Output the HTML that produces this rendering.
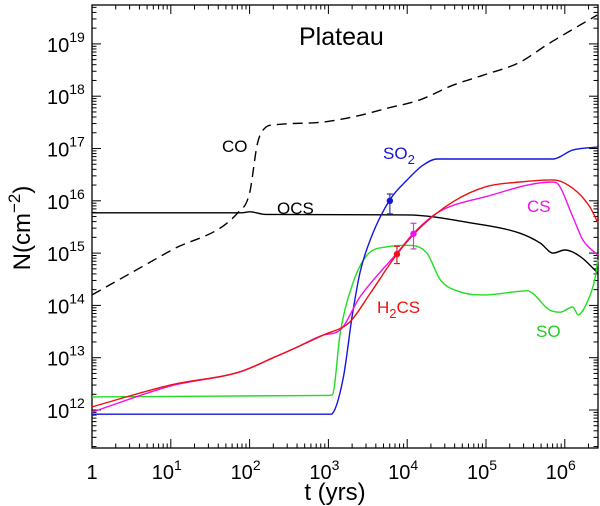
<!DOCTYPE html>
<html><head><meta charset="utf-8"><style>
html,body{margin:0;padding:0;background:#fff}
svg{display:block;font-family:"Liberation Sans",sans-serif}
</style></head><body>
<svg id="chart" width="600" height="506" viewBox="0 0 600 506">
<g id="axes"></g>
<g id="series"></g>
<g id="labels"></g>
</svg>
<script>
// ---- data (log10 t, log10 N) ----
const coT   = [0,1,1.85,2.0,2.1,2.2,2.3,2.9,3.3,3.75,4.16,4.58,4.96,5.43,5.77,5.9,6.41];
const coN   = [14.2,15.05,15.77,16.15,17.1,17.4,17.45,17.5,17.6,17.77,17.93,18.21,18.4,18.65,18.98,19.1,19.55];
const ocsT  = [0,1.9,2.0,2.2,4.0,4.8,5.43,5.69,5.85,6.0,6.2,6.42];
const ocsN  = [15.77,15.77,15.79,15.74,15.73,15.58,15.38,15.19,15.0,15.06,14.93,14.62];
const so2T  = [0,3.03,3.05,3.19,3.3,3.4,3.53,3.78,4.0,4.2,4.38,5.85,6.1,6.42];
const so2N  = [11.92,11.92,11.93,12.63,13.78,14.62,15.25,16.02,16.4,16.68,16.8,16.8,16.97,17.03];
const h2csT = [0,1.0,1.88,2.3,2.6,2.93,3.27,3.53,3.87,4.16,4.58,5.0,5.43,5.85,6.1,6.32,6.42];
const h2csN = [12.06,12.48,12.73,13.0,13.2,13.43,13.68,14.23,14.98,15.48,15.98,16.27,16.36,16.4,16.24,15.88,15.58];
const csT   = [0,1.0,1.88,2.3,2.6,2.93,3.15,3.4,3.87,4.08,4.38,5.0,5.85,5.9,6.1,6.23,6.42];
const csN   = [11.96,12.46,12.73,13.0,13.2,13.43,13.53,14.16,15.0,15.38,15.77,16.08,16.36,16.34,15.7,15.25,14.96];
const soT   = [0,3.0,3.05,3.15,3.31,3.49,3.74,4.0,4.25,4.42,4.67,5.0,5.52,5.81,5.94,6.1,6.17,6.28,6.38,6.42];
const soN   = [12.25,12.28,12.29,13.47,14.42,14.96,15.12,15.15,15.0,14.49,14.26,14.2,14.28,13.91,13.87,13.97,13.82,14.05,14.49,14.87];
const obsNames = ["SO2","H2CS","CS"];
const obsT  = [3.78,3.87,4.08];
const obsN  = [16.0,14.98,15.37];
const obsHi = [16.13,15.13,15.57];
const obsLo = [15.75,14.8,15.08];
const xTickLabels = ["1","10","10","10","10","10","10"];
const xTickExp = ["","1","2","3","4","5","6"];
const yTickExp = ["12","13","14","15","16","17","18","19"];

// ---- axis ----
const X0=92, X1=598, Y0=448, Y1=5;
const TMIN=0, TMAX=(598-92)/78.8;
const NMIN=12-(448-410)/52.3, NMAX=12+(410-5)/52.3;
const xs=t=>X0+(t-TMIN)/(TMAX-TMIN)*(X1-X0);
const ys=n=>Y0-(n-NMIN)/(NMAX-NMIN)*(Y0-Y1);
const NS="http://www.w3.org/2000/svg";
function mk(tag,attrs,parent){const e=document.createElementNS(NS,tag);for(const k in attrs)e.setAttribute(k,attrs[k]);parent.appendChild(e);return e;}
const axes=document.getElementById('axes'), ser=document.getElementById('series');

const frame=mk('rect',{x:X0,y:Y1,width:X1-X0,height:Y0-Y1,fill:'none',stroke:'#000','stroke-width':1.3},axes);



for(let d=0;d<=6;d++){
  for(let m=1;m<=9;m++){
    const t=d+Math.log10(m); if(t>TMAX) continue;
    const x=xs(t), L=m===1?9:4.5;
    const a=mk('line',{x1:x,x2:x,y1:Y0,y2:Y0-L,stroke:'#000','stroke-width':1},axes);
    
    
    const b=mk('line',{x1:x,x2:x,y1:Y1,y2:Y1+L,stroke:'#000','stroke-width':1},axes);
    
    
  }
}
xTickLabels.forEach((s,i)=>{
  const t=mk('text',{x:xs(i)+(xTickExp[i]?-4:0),y:479,'font-size':20,'text-anchor':'middle'},axes);
  
  
  t.textContent=s;
  if(xTickExp[i]){const sp=mk('tspan',{dy:-9,'font-size':14},t);sp.textContent=xTickExp[i];}
});
for(let d=11;d<=19;d++){
  for(let m=1;m<=9;m++){
    const n=d+Math.log10(m); if(n<NMIN||n>NMAX) continue;
    const y=ys(n), L=m===1?9:4.5;
    const a=mk('line',{x1:X0,x2:X0+L,y1:y,y2:y,stroke:'#000','stroke-width':1},axes);
    
    
    const b=mk('line',{x1:X1,x2:X1-L,y1:y,y2:y,stroke:'#000','stroke-width':1},axes);
    
    
  }
}
yTickExp.forEach((e,i)=>{
  const t=mk('text',{x:47,y:ys(12+i)+8,'font-size':20},axes);
  
  
  t.textContent='10';
  const sp=mk('tspan',{dy:-10,'font-size':14},t);sp.textContent=e;
});
const xt=mk('text',{x:335,y:500,'font-size':24,'text-anchor':'middle'},axes);


xt.textContent='t (yrs)';
const yt=mk('text',{x:0,y:0,'font-size':24,'text-anchor':'middle',transform:'translate(30,228) rotate(-90)'},axes);


yt.textContent='N(cm';
const ytsp=mk('tspan',{dy:-10,'font-size':17},yt);ytsp.textContent='\u22122';
const ytsp2=mk('tspan',{dy:10},yt);ytsp2.textContent=')';

// monotone cubic (Fritsch-Carlson) path: no overshoot, no loops
function monoPath(P){
  const n=P.length, dx=[], m=[], s=[];
  for(let i=0;i<n-1;i++){dx[i]=P[i+1][0]-P[i][0]; s[i]=dx[i]?(P[i+1][1]-P[i][1])/dx[i]:0;}
  m[0]=s[0]; m[n-1]=s[n-2];
  for(let i=1;i<n-1;i++){ m[i]=(s[i-1]*s[i]<=0)?0:(s[i-1]+s[i])/2; }
  for(let i=0;i<n-1;i++){
    if(s[i]===0){m[i]=0;m[i+1]=0;continue;}
    const a=m[i]/s[i], b=m[i+1]/s[i], h=a*a+b*b;
    if(h>9){const t=3/Math.sqrt(h); m[i]=t*a*s[i]; m[i+1]=t*b*s[i];}
  }
  let d='M'+P[0][0].toFixed(1)+','+P[0][1].toFixed(1);
  for(let i=0;i<n-1;i++){
    const h=dx[i]/3;
    d+=' C'+(P[i][0]+h).toFixed(1)+','+(P[i][1]+m[i]*h).toFixed(1)+' '+(P[i+1][0]-h).toFixed(1)+','+(P[i+1][1]-m[i+1]*h).toFixed(1)+' '+P[i+1][0].toFixed(1)+','+P[i+1][1].toFixed(1);
  }
  return d;
}
function line(T,N,color,name,dash){
  const P=T.map((t,i)=>[xs(t),ys(N[i])]);
  const p=mk('path',{d:monoPath(P),fill:'none',stroke:color,'stroke-width':1.4,'stroke-linejoin':'round'},ser);
  if(dash)p.setAttribute('stroke-dasharray',dash);
  
  
}
line(coT,coN,'#000','co-line','10,6');
line(ocsT,ocsN,'#000','ocs-line');
line(soT,soN,'#22dd22','so-line');
line(so2T,so2N,'#1515dd','so2-line');
line(csT,csN,'#ee11ee','cs-line');
line(h2csT,h2csN,'#ee1111','h2cs-line');

const obsColors=['#1515dd','#ee1111','#ee11ee'];
const obsBar=['#3030b0','#cc2020','#cc40cc'];
obsT.forEach((t,i)=>{
  const x=xs(t);
  const g=mk('g',{},ser);
  
  
  mk('line',{x1:x,x2:x,y1:ys(obsHi[i]),y2:ys(obsLo[i]),stroke:obsBar[i],'stroke-width':1.2},g);
  mk('line',{x1:x-3,x2:x+3,y1:ys(obsHi[i]),y2:ys(obsHi[i]),stroke:obsBar[i],'stroke-width':1.2},g);
  mk('line',{x1:x-3,x2:x+3,y1:ys(obsLo[i]),y2:ys(obsLo[i]),stroke:obsBar[i],'stroke-width':1.2},g);
  mk('circle',{cx:x,cy:ys(obsN[i]),r:3.2,fill:obsColors[i]},g);
});
</script>
<script>
(function(){
const lab=document.getElementById('labels');
const NS="http://www.w3.org/2000/svg";
function txt(x,y,s,color,size,name,sub,after){
  const t=document.createElementNS(NS,'text');
  t.setAttribute('x',x);t.setAttribute('y',y);t.setAttribute('fill',color);t.setAttribute('font-size',size);
  
  
  t.textContent=s;
  if(sub){const a=document.createElementNS(NS,'tspan');a.setAttribute('dy',5);a.setAttribute('font-size',13);a.textContent=sub;t.appendChild(a);
    if(after){const b=document.createElementNS(NS,'tspan');b.setAttribute('dy',-5);b.textContent=after;t.appendChild(b);}}
  lab.appendChild(t);
}
txt(299,45,'Plateau','#000',25,'plot-title');
txt(222,152,'CO','#000',17,'co-label');
txt(277,214,'OCS','#000',17,'ocs-label');
txt(383,159,'SO','#1515dd',17,'so2-label','2');
txt(527,212,'CS','#ee11ee',17,'cs-label');
txt(377,313,'H','#ee1111',17,'h2cs-label','2','CS');
txt(536,337,'SO','#22cc22',17,'so-label');
})();
</script>
</body></html>
